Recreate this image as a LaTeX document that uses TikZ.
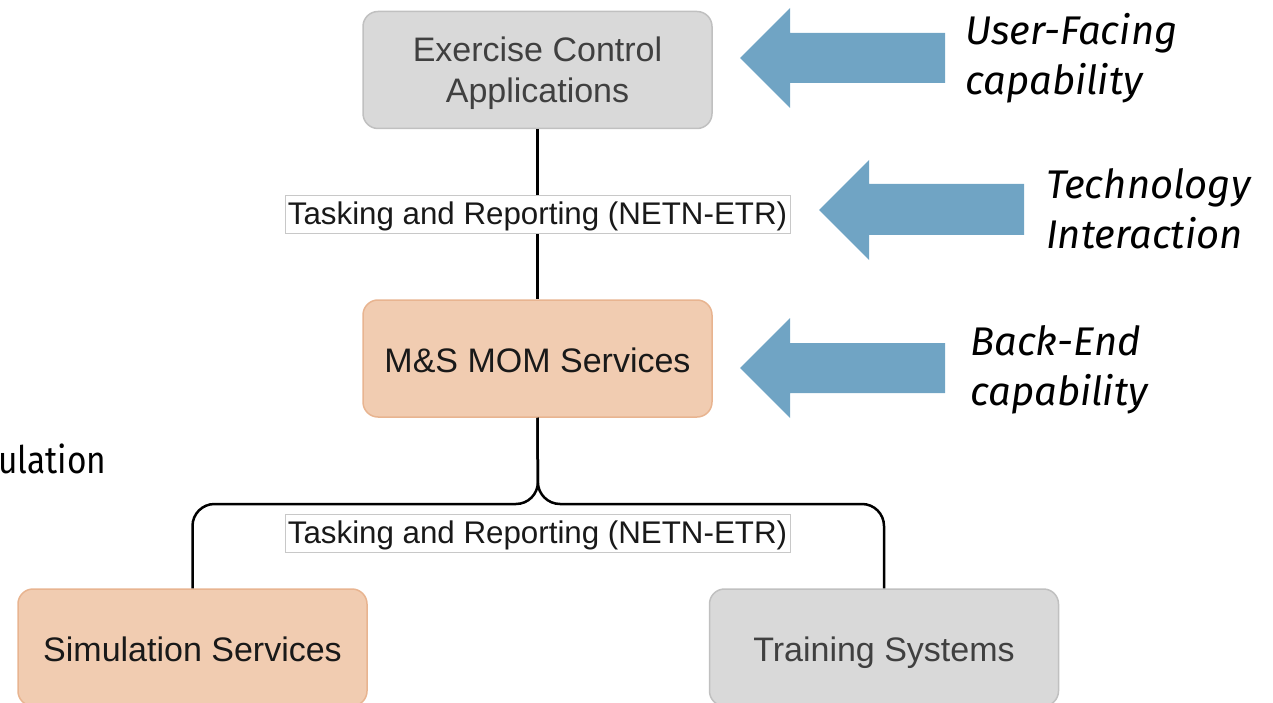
\documentclass[tikz,border=0pt]{standalone}
\usepackage{fontspec}
\setmainfont{Liberation Sans}
\newfontfamily\noteface{Fira Sans}

\definecolor{boxgrey}{RGB}{217,217,217}
\definecolor{boxgreyline}{RGB}{192,192,192}
\definecolor{greytext}{RGB}{64,64,64}
\definecolor{peach}{RGB}{241,204,177}
\definecolor{peachline}{RGB}{232,180,144}
\definecolor{arrowblue}{RGB}{112,164,196}
\definecolor{tagline}{RGB}{200,200,200}

\begin{document}
\begin{tikzpicture}[x=1pt,y=-1pt,
  box/.style={rounded corners=15, line width=1.5, minimum width=349,
    minimum height=117, align=center, inner sep=0,
    text height=28, text depth=0,
    font=\fontsize{34}{41}\selectfont},
  greybox/.style={box, fill=boxgrey, draw=boxgreyline, text=greytext},
  peachbox/.style={box, fill=peach, draw=peachline, text=black!90},
  tag/.style={fill=white, draw=tagline, line width=0.8, minimum width=505,
    minimum height=38, inner sep=0, text=black!90,
    text height=20, text depth=0,
    font=\fontsize{31.3}{36}\selectfont},
  wire/.style={line width=2.5, black},
  note/.style={font=\noteface\itshape\fontsize{40}{50}\selectfont,
    align=left, anchor=west, inner sep=0},
  bigarrow/.style={fill=arrowblue}
]
\useasboundingbox (0,0) rectangle (1273,703);
\clip (0,0) rectangle (1273,703);

% partially visible caption on the left edge
\node[font=\noteface\fontsize{38}{44}\selectfont, anchor=base west, inner sep=0]
  (lefttext) at (-2,473) {\scalebox{0.88}[1]{ulation}};

% boxes
\node[greybox, text height=70, text depth=4] (eca) at (537.5,70)
  {Exercise Control\\Applications};
\node[peachbox] (mom)   at (537.5,358.5) {M\&S MOM Services};
\node[peachbox] (sim)   at (192.5,647.5) {Simulation Services};
\node[greybox]  (train) at (884,647.5)   {Training Systems};

% connectors
\draw[wire] (eca.south) -- (mom.north);
\node[tag] (tag1) at (537.5,214.5) {Tasking and Reporting (NETN-ETR)};

\coordinate (split) at (538,504);
\draw[wire, rounded corners=22] (mom.south) -- (split) -| (sim.north);
\draw[wire, rounded corners=22] (mom.south) -- (split) -| (train.north);
\node[tag] (tag2) at (537.5,533.5) {Tasking and Reporting (NETN-ETR)};

% block arrows
\fill[bigarrow] (945,33) -- (790,33) -- (790,8) -- (740,58) -- (790,108)
  -- (790,83) -- (945,83) -- cycle;
\fill[bigarrow] (1024,184) -- (869,184) -- (869,160) -- (819,210) -- (869,260)
  -- (869,235) -- (1024,235) -- cycle;
\fill[bigarrow] (945,343) -- (790,343) -- (790,318) -- (740,368) -- (790,418)
  -- (790,393) -- (945,393) -- cycle;

% side notes
\node[note] (n1) at (965,58)  {User-Facing\\capability};
\node[note] (n2) at (1046,209) {Technology\\Interaction};
\node[note] (n3) at (970,370) {Back-End\\capability};
\end{tikzpicture}
\end{document}
